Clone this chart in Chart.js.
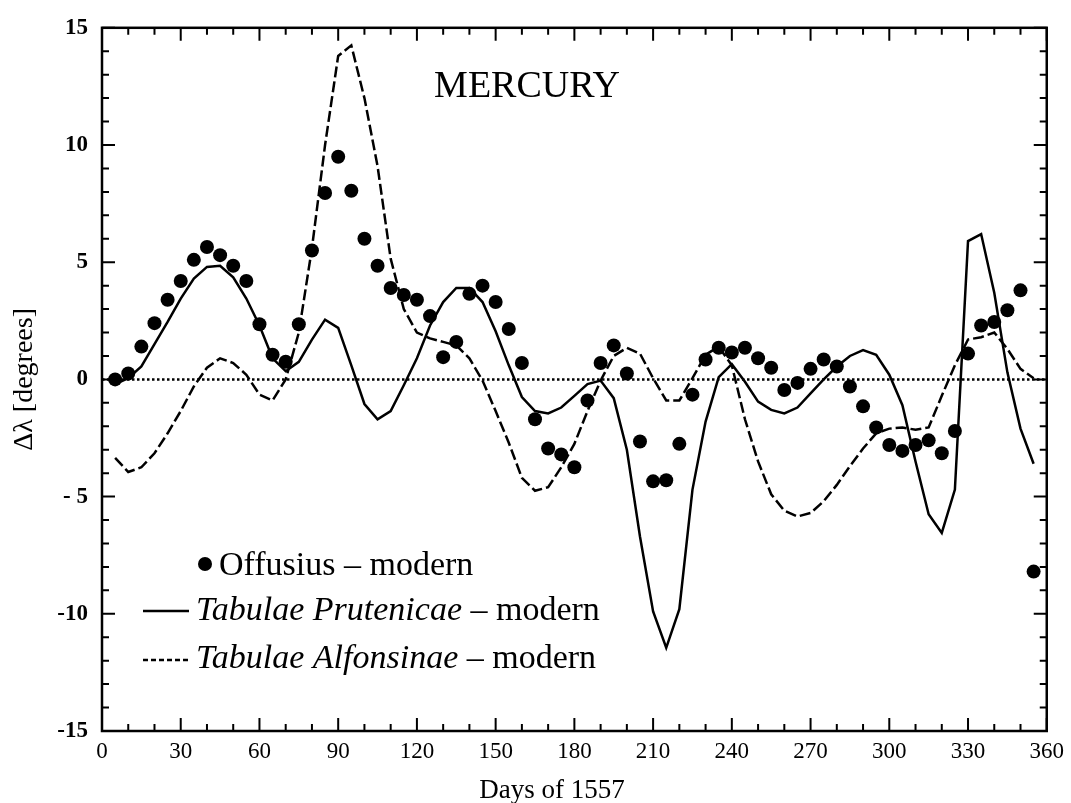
<!DOCTYPE html>
<html>
<head>
<meta charset="utf-8">
<script src="https://cdn.jsdelivr.net/npm/chart.js@4.4.1/dist/chart.umd.min.js"></script>
<style>
  html, body { margin: 0; padding: 0; background: #fff; }
  #wrap { width: 1071px; height: 803px; }
</style>
</head>
<body>
<div id="wrap"><canvas id="mercury" width="1071" height="803"></canvas></div>
<script>
// days of the year (every 5 days)
const days = [5, 10, 15, 20, 25, 30, 35, 40, 45, 50, 55, 60, 65, 70, 75, 80, 85, 90, 95, 100,
  105, 110, 115, 120, 125, 130, 135, 140, 145, 150, 155, 160, 165, 170, 175, 180, 185, 190, 195, 200,
  205, 210, 215, 220, 225, 230, 235, 240, 245, 250, 255, 260, 265, 270, 275, 280, 285, 290, 295, 300,
  305, 310, 315, 320, 325, 330, 335, 340, 345, 350, 355];

// Offusius - modern (dots)
const offusius = [0.0, 0.25, 1.4, 2.4, 3.4, 4.2, 5.1, 5.65, 5.3, 4.85, 4.2, 2.35, 1.05, 0.75, 2.35, 5.5, 7.95, 9.5, 8.05, 6.0,
  4.85, 3.9, 3.6, 3.4, 2.7, 0.95, 1.6, 3.65, 4.0, 3.3, 2.15, 0.7, -1.7, -2.95, -3.2, -3.75, -0.9, 0.7, 1.45, 0.25,
  -2.65, -4.35, -4.3, -2.75, -0.65, 0.85, 1.35, 1.15, 1.35, 0.9, 0.5, -0.45, -0.15, 0.45, 0.85, 0.55, -0.3, -1.15, -2.05, -2.8,
  -3.05, -2.8, -2.6, -3.15, -2.2, 1.1, 2.3, 2.45, 2.95, 3.8, -8.2];

// Tabulae Prutenicae - modern (solid)
const prutenicae = [-0.2, 0.05, 0.55, 1.5, 2.45, 3.45, 4.3, 4.8, 4.85, 4.35, 3.45, 2.3, 0.9, 0.35, 0.75, 1.7, 2.55, 2.2, 0.6, -1.05,
  -1.7, -1.35, -0.25, 0.9, 2.3, 3.3, 3.9, 3.9, 3.3, 2.05, 0.6, -0.75, -1.35, -1.45, -1.2, -0.7, -0.2, -0.05, -0.8, -3.0,
  -6.7, -9.9, -11.45, -9.8, -4.7, -1.8, 0.1, 0.65, -0.1, -0.95, -1.3, -1.45, -1.2, -0.6, 0.0, 0.55, 1.0, 1.25, 1.05, 0.2,
  -1.1, -3.5, -5.75, -6.55, -4.7, 5.9, 6.2, 3.7, 0.3, -2.1, -3.6];

// Tabulae Alfonsinae - modern (dashed)
const alfonsinae = [-3.35, -3.95, -3.75, -3.15, -2.3, -1.35, -0.3, 0.5, 0.9, 0.7, 0.2, -0.65, -0.9, 0.0, 2.0, 5.6, 10.0, 13.8, 14.25, 12.0,
  9.1, 5.15, 3.0, 2.0, 1.75, 1.6, 1.45, 0.9, -0.05, -1.35, -2.7, -4.2, -4.75, -4.6, -3.75, -2.75, -1.35, -0.05, 1.0, 1.35,
  1.1, 0.05, -0.9, -0.9, 0.05, 1.05, 1.4, 0.6, -1.7, -3.5, -4.9, -5.6, -5.85, -5.7, -5.2, -4.5, -3.7, -2.95, -2.3, -2.1,
  -2.05, -2.15, -2.05, -0.7, 0.6, 1.7, 1.8, 2.0, 1.3, 0.45, 0.05];

const xTicks = [0, 30, 60, 90, 120, 150, 180, 210, 240, 270, 300, 330, 360];
const yTicks = [-15, -10, -5, 0, 5, 10, 15];
const yTickLabels = ['-15', '-10', '- 5', '0', '5', '10', '15'];

const SERIF = '"Liberation Serif", "DejaVu Serif", serif';

function pts(ys) {
  return days.map((d, i) => ({ x: d, y: ys[i] }));
}

// frame, inward ticks, zero line, title, x label and legend
const decorations = {
  id: 'decorations',
  beforeDatasetsDraw(chart) {
    const { ctx, chartArea: a, scales } = chart;
    const y0 = scales.y.getPixelForValue(0);
    ctx.save();
    ctx.strokeStyle = '#000';
    ctx.lineWidth = 2.5;
    ctx.setLineDash([2.5, 2.5]);
    ctx.beginPath();
    ctx.moveTo(a.left, y0);
    ctx.lineTo(a.right, y0);
    ctx.stroke();
    ctx.restore();
  },
  afterDatasetsDraw(chart) {
    const { ctx, chartArea: a, scales } = chart;
    ctx.save();
    ctx.strokeStyle = '#000';
    ctx.lineWidth = 2;
    ctx.beginPath();
    for (let v = -15; v <= 15; v++) {
      const y = scales.y.getPixelForValue(v);
      const len = v % 5 === 0 ? 13 : 7;
      ctx.moveTo(a.left, y); ctx.lineTo(a.left + len, y);
      ctx.moveTo(a.right, y); ctx.lineTo(a.right - len, y);
    }
    for (let d = 0; d <= 360; d += 10) {
      const x = scales.x.getPixelForValue(d);
      const len = d % 30 === 0 ? 13 : 7;
      ctx.moveTo(x, a.bottom); ctx.lineTo(x, a.bottom - len);
      ctx.moveTo(x, a.top); ctx.lineTo(x, a.top + len);
    }
    ctx.stroke();
    ctx.lineWidth = 2.5;
    ctx.strokeRect(a.left, a.top, a.right - a.left, a.bottom - a.top);

    ctx.fillStyle = '#000';
    ctx.textBaseline = 'alphabetic';

    // planet name
    ctx.font = '38px ' + SERIF;
    ctx.textAlign = 'center';
    ctx.fillText('MERCURY', 527, 97);

    // x axis label
    ctx.font = '27px ' + SERIF;
    ctx.fillText('Days of 1557', 552, 798);

    // legend
    ctx.textAlign = 'left';
    const normal = '34px ' + SERIF;
    const italic = 'italic 34px ' + SERIF;

    ctx.beginPath();
    ctx.arc(205, 564, 7, 0, Math.PI * 2);
    ctx.fill();
    ctx.font = normal;
    ctx.fillText('Offusius \u2013 modern', 219, 575);

    ctx.lineWidth = 2.5;
    ctx.beginPath();
    ctx.moveTo(143, 611); ctx.lineTo(189, 611);
    ctx.stroke();
    ctx.font = italic;
    ctx.fillText('Tabulae Prutenicae', 196, 620);
    let w = ctx.measureText('Tabulae Prutenicae').width;
    ctx.font = normal;
    ctx.fillText(' \u2013 modern', 196 + w, 620);

    ctx.setLineDash([5, 3]);
    ctx.beginPath();
    ctx.moveTo(143, 660); ctx.lineTo(191, 660);
    ctx.stroke();
    ctx.setLineDash([]);
    ctx.font = italic;
    ctx.fillText('Tabulae Alfonsinae', 196, 668);
    w = ctx.measureText('Tabulae Alfonsinae').width;
    ctx.font = normal;
    ctx.fillText(' \u2013 modern', 196 + w, 668);
    ctx.restore();
  }
};

new Chart(document.getElementById('mercury'), {
  type: 'line',
  data: {
    datasets: [
      {
        label: 'Offusius - modern',
        data: pts(offusius),
        showLine: false,
        pointRadius: 7,
        pointBackgroundColor: '#000',
        pointBorderWidth: 0
      },
      {
        label: 'Tabulae Prutenicae - modern',
        data: pts(prutenicae),
        borderColor: '#000',
        borderWidth: 2.5,
        pointRadius: 0,
        tension: 0
      },
      {
        label: 'Tabulae Alfonsinae - modern',
        data: pts(alfonsinae),
        borderColor: '#000',
        borderWidth: 2.5,
        borderDash: [11, 4],
        pointRadius: 0,
        tension: 0
      }
    ]
  },
  options: {
    responsive: false,
    animation: false,
    layout: { padding: { top: 20, right: 18, left: 0, bottom: 0 } },
    plugins: { legend: { display: false }, tooltip: { enabled: false } },
    scales: {
      x: {
        type: 'linear',
        min: 0,
        max: 360,
        afterBuildTicks: (s) => { s.ticks = xTicks.map(v => ({ value: v })); },
        ticks: { color: '#000', font: { family: SERIF, size: 23 }, padding: 7, maxRotation: 0, autoSkip: false },
        grid: { display: false, drawTicks: false },
        border: { display: false },
        afterFit: (s) => { s.height = 72; }
      },
      y: {
        min: -15,
        max: 15,
        afterBuildTicks: (s) => { s.ticks = yTicks.map(v => ({ value: v })); },
        ticks: {
          color: '#000',
          font: { family: SERIF, size: 23, weight: 'bold' },
          padding: 14,
          callback: (v) => yTickLabels[yTicks.indexOf(v)]
        },
        grid: { display: false, drawTicks: false },
        border: { display: false },
        title: { display: true, text: '\u0394\u03bb [degrees]', color: '#000', font: { family: SERIF, size: 28, lineHeight: 1 }, padding: { top: 11, bottom: 0 } },
        afterFit: (s) => { s.width = 102; }
      }
    }
  },
  plugins: [decorations]
});
</script>
</body>
</html>
